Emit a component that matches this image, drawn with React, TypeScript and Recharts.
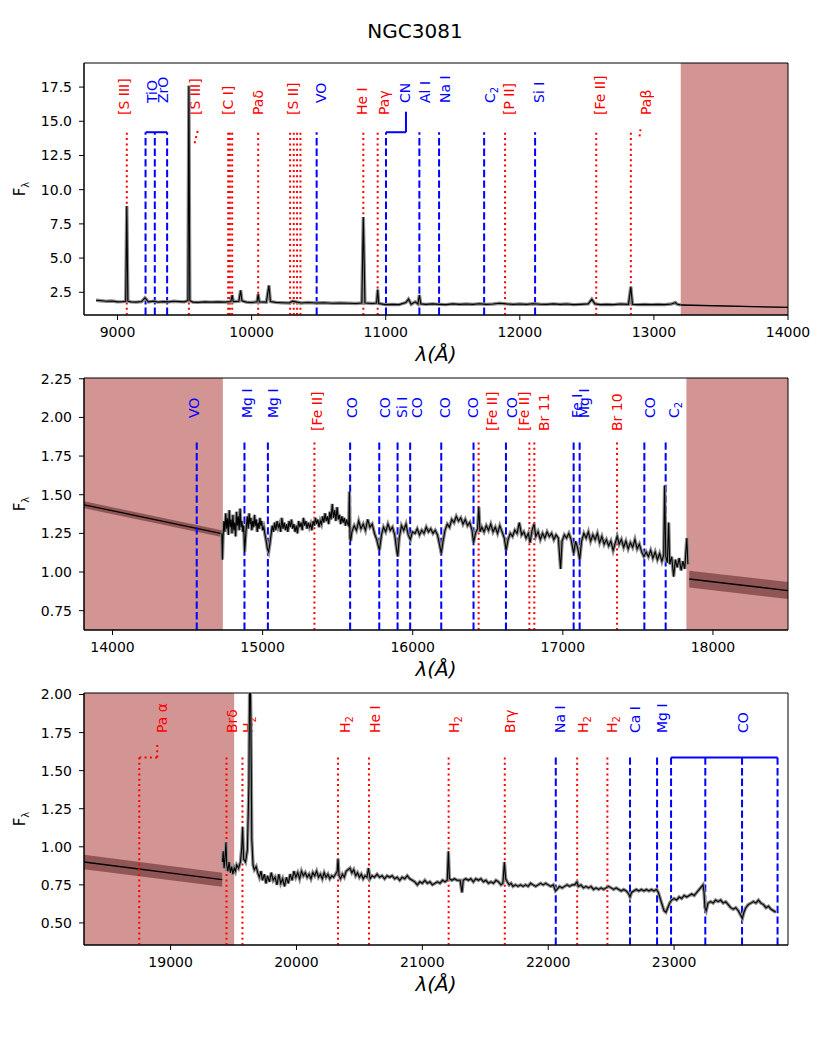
import React from "react"
import { ComposedChart, Line, Area, XAxis, YAxis, ReferenceArea, ReferenceLine } from "recharts"

type Pt = [number, number]
type Mark = { name: string; w: number[]; lw: number; kind: "em" | "abs" }

const RED = "#ff0000"
const BLUE = "#0000ff"
const SHADE = "#d39494"
const BAND = "#905656"
const FONT = "DejaVu Sans, sans-serif"

// ---------- panel 1 : 8750 - 14000 A ----------
const spec1: Pt[] = [
  [8840, 1.92], [8880, 1.88], [8920, 1.84], [8960, 1.86], [9000, 1.8], [9040, 1.82], [9061, 1.85], [9069, 8.8],
  [9077, 1.85], [9100, 1.8], [9140, 1.78], [9180, 1.82], [9205, 2.1], [9230, 1.8], [9270, 1.85], [9300, 1.78],
  [9340, 1.82], [9380, 1.8], [9420, 1.84], [9460, 1.82], [9500, 1.8], [9525, 1.9], [9532, 17.6], [9539, 1.9],
  [9560, 1.78], [9600, 1.76], [9650, 1.8], [9700, 1.78], [9750, 1.8], [9800, 1.78], [9845, 1.82], [9855, 2.3],
  [9863, 1.82], [9905, 1.85], [9918, 2.65], [9928, 1.88], [9960, 1.78], [10000, 1.75], [10040, 1.8], [10049, 2.35],
  [10057, 1.8], [10110, 1.78], [10129, 3.0], [10140, 1.82], [10180, 1.76], [10230, 1.74], [10280, 1.72], [10305, 1.85],
  [10330, 1.8], [10370, 1.72], [10420, 1.75], [10480, 1.72], [10540, 1.74], [10600, 1.7], [10660, 1.72], [10720, 1.7],
  [10780, 1.68], [10822, 1.72], [10833, 8.0], [10845, 1.72], [10900, 1.68], [10932, 1.72], [10940, 2.7], [10948, 1.68],
  [11000, 1.6], [11050, 1.62], [11100, 1.6], [11150, 1.75], [11170, 2.0], [11190, 1.62], [11220, 1.8], [11240, 1.65],
  [11251, 2.3], [11262, 1.65], [11300, 1.62], [11350, 1.65], [11400, 1.62], [11450, 1.6], [11500, 1.65], [11550, 1.62],
  [11600, 1.64], [11650, 1.62], [11700, 1.66], [11750, 1.62], [11800, 1.64], [11850, 1.7], [11900, 1.65], [11950, 1.62],
  [12000, 1.64], [12050, 1.62], [12100, 1.66], [12150, 1.63], [12200, 1.62], [12250, 1.65], [12300, 1.62], [12350, 1.64],
  [12400, 1.6], [12450, 1.62], [12510, 1.65], [12537, 2.0], [12560, 1.65], [12600, 1.6], [12650, 1.62], [12700, 1.6],
  [12750, 1.64], [12810, 1.62], [12828, 2.9], [12840, 1.62], [12880, 1.6], [12930, 1.62], [12980, 1.6], [13030, 1.62],
  [13080, 1.6], [13130, 1.64], [13160, 1.75], [13175, 1.62], [13200, 1.58],
]
const model1 = [[13200, 1.57, 1.53, 1.61], [14000, 1.4, 1.36, 1.44]]
const marks1: Mark[] = [
  { name: "[S III]", w: [9069], lw: 9047, kind: "em" },
  { name: "TiO", w: [9209], lw: 9254, kind: "abs" },
  { name: "ZrO", w: [9278, 9370], lw: 9340, kind: "abs" },
  { name: "[S III]", w: [9532], lw: 9577, kind: "em" },
  { name: "[C I]", w: [9825, 9838, 9855], lw: 9825, kind: "em" },
  { name: "Paδ", w: [10049], lw: 10049, kind: "em" },
  { name: "[S II]", w: [10287, 10314, 10339, 10364], lw: 10310, kind: "em" },
  { name: "VO", w: [10485], lw: 10519, kind: "abs" },
  { name: "He I", w: [10833], lw: 10821, kind: "em" },
  { name: "Paγ", w: [10940], lw: 10987, kind: "em" },
  { name: "CN", w: [11002], lw: 11144, kind: "abs" },
  { name: "Al I", w: [11251], lw: 11293, kind: "abs" },
  { name: "Na I", w: [11398], lw: 11443, kind: "abs" },
  { name: "C_2", w: [11734], lw: 11778, kind: "abs" },
  { name: "[P II]", w: [11890], lw: 11920, kind: "em" },
  { name: "Si I", w: [12114], lw: 12146, kind: "abs" },
  { name: "[Fe II]", w: [12570], lw: 12599, kind: "em" },
  { name: "Paβ", w: [12828], lw: 12943, kind: "em" },
]
const brackets1: Pt[][] = [
  [[9209, 14.2], [9370, 14.2]],
  [[11002, 14.2], [11151, 14.2]],
  [[11151, 14.2], [11151, 15.7]],
]
const leaders1: Pt[][] = [
  [[9575, 13.4], [9598, 14.3]],
  [[12893, 13.9], [12900, 14.4]],
]

// ---------- panel 2 : 13810 - 18500 A ----------
const spec2: Pt[] = [
  [14728, 1.25], [14732, 1.08], [14736, 1.22], [14742, 1.33], [14748, 1.26], [14754, 1.38], [14760, 1.28], [14766, 1.35],
  [14772, 1.24], [14778, 1.4], [14784, 1.29], [14790, 1.34], [14796, 1.25], [14802, 1.37], [14808, 1.27], [14814, 1.32],
  [14820, 1.23], [14826, 1.39], [14832, 1.3], [14838, 1.36], [14844, 1.27], [14850, 1.41], [14856, 1.29], [14862, 1.33],
  [14868, 1.26], [14874, 1.3], [14880, 1.13], [14886, 1.22], [14892, 1.3], [14898, 1.36], [14904, 1.28], [14910, 1.38],
  [14916, 1.31], [14922, 1.35], [14928, 1.27], [14934, 1.33], [14940, 1.29], [14946, 1.37], [14952, 1.3], [14958, 1.34],
  [14964, 1.26], [14970, 1.32], [14976, 1.28], [14982, 1.35], [14988, 1.3], [14994, 1.33], [15000, 1.27], [15008, 1.29],
  [15016, 1.24], [15024, 1.2], [15032, 1.15], [15040, 1.13], [15048, 1.18], [15056, 1.24], [15064, 1.3], [15072, 1.26],
  [15080, 1.32], [15088, 1.27], [15096, 1.33], [15104, 1.29], [15112, 1.31], [15120, 1.26], [15128, 1.35], [15136, 1.28],
  [15144, 1.32], [15152, 1.27], [15160, 1.31], [15168, 1.26], [15176, 1.33], [15184, 1.29], [15192, 1.34], [15200, 1.28],
  [15208, 1.31], [15216, 1.26], [15224, 1.3], [15232, 1.25], [15240, 1.33], [15248, 1.29], [15256, 1.32], [15264, 1.27],
  [15272, 1.35], [15280, 1.3], [15288, 1.33], [15296, 1.28], [15304, 1.32], [15312, 1.29], [15320, 1.31], [15328, 1.27],
  [15336, 1.33], [15344, 1.3], [15352, 1.35], [15360, 1.31], [15368, 1.34], [15376, 1.29], [15384, 1.33], [15392, 1.31],
  [15400, 1.36], [15408, 1.32], [15416, 1.38], [15424, 1.33], [15432, 1.36], [15440, 1.31], [15448, 1.39], [15456, 1.34],
  [15464, 1.44], [15472, 1.35], [15480, 1.4], [15488, 1.33], [15496, 1.42], [15504, 1.34], [15512, 1.37], [15520, 1.31],
  [15528, 1.36], [15536, 1.32], [15544, 1.35], [15552, 1.3], [15560, 1.34], [15568, 1.31], [15574, 1.3], [15578, 1.52],
  [15582, 1.22], [15586, 1.2], [15595, 1.26], [15610, 1.3], [15625, 1.27], [15640, 1.33], [15655, 1.28], [15670, 1.31],
  [15685, 1.27], [15700, 1.34], [15715, 1.29], [15730, 1.31], [15745, 1.25], [15760, 1.21], [15778, 1.14], [15792, 1.24],
  [15805, 1.29], [15820, 1.26], [15835, 1.31], [15850, 1.27], [15865, 1.29], [15880, 1.24], [15892, 1.15], [15900, 1.1],
  [15910, 1.22], [15925, 1.3], [15940, 1.27], [15955, 1.31], [15970, 1.24], [15984, 1.21], [15998, 1.26], [16015, 1.25],
  [16030, 1.28], [16045, 1.24], [16060, 1.27], [16075, 1.25], [16090, 1.29], [16105, 1.26], [16120, 1.28], [16135, 1.25],
  [16150, 1.27], [16165, 1.24], [16178, 1.18], [16190, 1.12], [16202, 1.2], [16215, 1.27], [16230, 1.31], [16245, 1.29],
  [16260, 1.34], [16275, 1.32], [16290, 1.36], [16305, 1.33], [16320, 1.35], [16335, 1.31], [16350, 1.34], [16365, 1.3],
  [16380, 1.32], [16395, 1.27], [16405, 1.19], [16418, 1.25], [16432, 1.28], [16440, 1.42], [16448, 1.26], [16460, 1.29],
  [16475, 1.26], [16490, 1.3], [16505, 1.27], [16520, 1.31], [16535, 1.26], [16550, 1.29], [16565, 1.25], [16580, 1.3],
  [16595, 1.26], [16610, 1.22], [16622, 1.14], [16635, 1.21], [16650, 1.25], [16665, 1.23], [16680, 1.27], [16695, 1.25],
  [16710, 1.32], [16725, 1.24], [16740, 1.26], [16755, 1.22], [16770, 1.25], [16782, 1.19], [16795, 1.27], [16808, 1.31],
  [16820, 1.23], [16835, 1.26], [16850, 1.21], [16865, 1.25], [16880, 1.22], [16895, 1.26], [16910, 1.23], [16925, 1.25],
  [16940, 1.21], [16955, 1.24], [16970, 1.22], [16985, 1.02], [16995, 1.2], [17010, 1.24], [17025, 1.22], [17040, 1.25],
  [17055, 1.21], [17072, 1.12], [17085, 1.2], [17100, 1.15], [17112, 1.08], [17125, 1.2], [17140, 1.25], [17155, 1.22],
  [17170, 1.26], [17185, 1.2], [17200, 1.24], [17215, 1.21], [17230, 1.25], [17245, 1.19], [17260, 1.23], [17275, 1.18],
  [17290, 1.21], [17305, 1.17], [17320, 1.2], [17335, 1.14], [17350, 1.19], [17362, 1.23], [17375, 1.18], [17390, 1.21],
  [17405, 1.16], [17420, 1.2], [17435, 1.15], [17450, 1.19], [17465, 1.16], [17480, 1.21], [17495, 1.15], [17510, 1.18],
  [17525, 1.13], [17540, 1.1], [17555, 1.13], [17570, 1.1], [17585, 1.14], [17600, 1.09], [17615, 1.13], [17630, 1.08],
  [17645, 1.12], [17660, 1.07], [17672, 1.11], [17678, 1.56], [17686, 1.1], [17696, 1.06], [17705, 1.32], [17712, 1.05],
  [17725, 1.1], [17738, 0.97], [17750, 1.08], [17762, 1.03], [17775, 1.09], [17788, 1.01], [17800, 1.07], [17812, 1.02],
  [17826, 1.22], [17833, 1.05],
]
const model2a = [[13810, 1.435, 1.413, 1.457], [14735, 1.247, 1.225, 1.269]]
const model2b = [[17842, 0.955, 0.9, 1.008], [18500, 0.88, 0.825, 0.935]]
const marks2: Mark[] = [
  { name: "VO", w: [14561], lw: 14543, kind: "abs" },
  { name: "Mg I", w: [14879], lw: 14895, kind: "abs" },
  { name: "Mg I", w: [15035], lw: 15072, kind: "abs" },
  { name: "[Fe II]", w: [15345], lw: 15361, kind: "em" },
  { name: "CO", w: [15583], lw: 15595, kind: "abs" },
  { name: "CO", w: [15777], lw: 15817, kind: "abs" },
  { name: "Si I", w: [15899], lw: 15928, kind: "abs" },
  { name: "CO", w: [15983], lw: 16028, kind: "abs" },
  { name: "CO", w: [16190], lw: 16217, kind: "abs" },
  { name: "CO", w: [16405], lw: 16400, kind: "abs" },
  { name: "[Fe II]", w: [16439], lw: 16528, kind: "em" },
  { name: "CO", w: [16621], lw: 16661, kind: "abs" },
  { name: "[Fe II]", w: [16777], lw: 16739, kind: "em" },
  { name: "Br 11", w: [16810], lw: 16872, kind: "em" },
  { name: "Fe I", w: [17072], lw: 17095, kind: "abs" },
  { name: "Mg I", w: [17112], lw: 17143, kind: "abs" },
  { name: "Br 10", w: [17361], lw: 17361, kind: "em" },
  { name: "CO", w: [17543], lw: 17583, kind: "abs" },
  { name: "C_2", w: [17685], lw: 17739, kind: "abs" },
]

// ---------- panel 3 : 18310 - 23905 A ----------
const spec3: Pt[] = [
  [19412, 0.9], [19418, 0.97], [19425, 0.86], [19432, 0.92], [19440, 1.03], [19446, 0.88], [19455, 0.84], [19465, 0.9],
  [19475, 0.83], [19485, 0.87], [19495, 0.82], [19505, 0.86], [19515, 0.84], [19525, 0.88], [19540, 0.86], [19555, 0.9],
  [19566, 1.0], [19572, 1.13], [19580, 0.92], [19595, 0.9], [19610, 0.98], [19622, 1.4], [19630, 2.3], [19638, 1.8],
  [19645, 1.05], [19655, 0.88], [19665, 0.85], [19680, 0.87], [19692, 0.83], [19705, 0.8], [19718, 0.84], [19730, 0.78],
  [19745, 0.82], [19758, 0.76], [19770, 0.81], [19785, 0.77], [19800, 0.83], [19815, 0.78], [19830, 0.8], [19845, 0.75],
  [19860, 0.82], [19875, 0.76], [19890, 0.79], [19905, 0.74], [19920, 0.8], [19935, 0.76], [19950, 0.82], [19965, 0.78],
  [19980, 0.84], [19995, 0.8], [20010, 0.83], [20025, 0.79], [20040, 0.84], [20055, 0.81], [20070, 0.83], [20085, 0.8],
  [20100, 0.82], [20115, 0.79], [20130, 0.83], [20145, 0.81], [20160, 0.84], [20175, 0.8], [20190, 0.82], [20205, 0.79],
  [20220, 0.83], [20235, 0.8], [20250, 0.82], [20265, 0.79], [20280, 0.81], [20295, 0.8], [20310, 0.82], [20324, 0.84],
  [20330, 0.92], [20338, 0.81], [20350, 0.79], [20365, 0.82], [20380, 0.8], [20395, 0.84], [20410, 0.85], [20425, 0.86],
  [20440, 0.83], [20455, 0.85], [20470, 0.81], [20485, 0.83], [20500, 0.8], [20515, 0.82], [20530, 0.79], [20545, 0.81],
  [20560, 0.8], [20572, 0.86], [20585, 0.79], [20600, 0.81], [20620, 0.8], [20640, 0.82], [20660, 0.8], [20680, 0.81],
  [20700, 0.79], [20720, 0.81], [20740, 0.8], [20760, 0.81], [20780, 0.79], [20800, 0.8], [20820, 0.78], [20840, 0.8],
  [20860, 0.79], [20880, 0.81], [20900, 0.79], [20920, 0.78], [20940, 0.77], [20960, 0.75], [20980, 0.77], [21000, 0.76],
  [21020, 0.78], [21040, 0.76], [21060, 0.77], [21080, 0.75], [21100, 0.76], [21120, 0.77], [21140, 0.76], [21160, 0.78],
  [21180, 0.77], [21198, 0.78], [21207, 0.97], [21215, 0.79], [21235, 0.78], [21255, 0.79], [21275, 0.78], [21300, 0.78],
  [21315, 0.7], [21325, 0.78], [21345, 0.79], [21365, 0.78], [21385, 0.79], [21405, 0.77], [21425, 0.79], [21445, 0.78],
  [21465, 0.79], [21485, 0.77], [21505, 0.78], [21525, 0.76], [21545, 0.77], [21565, 0.76], [21585, 0.78], [21605, 0.77],
  [21625, 0.75], [21640, 0.76], [21652, 0.9], [21662, 0.79], [21675, 0.77], [21690, 0.75], [21705, 0.76], [21720, 0.74],
  [21740, 0.75], [21760, 0.74], [21780, 0.75], [21800, 0.74], [21820, 0.75], [21840, 0.74], [21860, 0.76], [21880, 0.75],
  [21900, 0.74], [21920, 0.75], [21940, 0.76], [21960, 0.75], [21980, 0.76], [22000, 0.75], [22020, 0.74], [22040, 0.75],
  [22058, 0.71], [22070, 0.72], [22090, 0.74], [22110, 0.73], [22130, 0.74], [22150, 0.75], [22170, 0.74], [22190, 0.75],
  [22210, 0.75], [22228, 0.77], [22240, 0.74], [22260, 0.75], [22280, 0.73], [22300, 0.74], [22320, 0.73], [22340, 0.74],
  [22360, 0.72], [22380, 0.73], [22400, 0.72], [22420, 0.73], [22440, 0.72], [22460, 0.73], [22480, 0.74], [22500, 0.73],
  [22520, 0.72], [22540, 0.73], [22560, 0.72], [22580, 0.71], [22600, 0.72], [22620, 0.71], [22640, 0.69], [22650, 0.67],
  [22662, 0.7], [22680, 0.71], [22700, 0.72], [22720, 0.71], [22740, 0.72], [22760, 0.71], [22780, 0.72], [22800, 0.71],
  [22820, 0.72], [22840, 0.71], [22860, 0.72], [22875, 0.7], [22890, 0.66], [22905, 0.62], [22920, 0.58], [22935, 0.57],
  [22950, 0.6], [22965, 0.63], [22980, 0.65], [23000, 0.66], [23020, 0.65], [23040, 0.67], [23060, 0.66], [23080, 0.68],
  [23100, 0.67], [23120, 0.68], [23140, 0.69], [23160, 0.68], [23180, 0.7], [23200, 0.72], [23220, 0.74], [23230, 0.75],
  [23238, 0.7], [23245, 0.6], [23255, 0.58], [23270, 0.63], [23290, 0.64], [23310, 0.63], [23330, 0.65], [23350, 0.64],
  [23370, 0.65], [23390, 0.63], [23410, 0.64], [23430, 0.62], [23450, 0.6], [23470, 0.59], [23490, 0.6], [23510, 0.58],
  [23530, 0.55], [23542, 0.53], [23555, 0.57], [23570, 0.6], [23590, 0.62], [23610, 0.63], [23630, 0.64], [23650, 0.63],
  [23670, 0.65], [23690, 0.63], [23710, 0.62], [23730, 0.6], [23750, 0.61], [23770, 0.59], [23790, 0.58], [23808, 0.57],
]
const model3 = [[18312, 0.9, 0.852, 0.948], [19410, 0.784, 0.738, 0.83]]
const marks3: Mark[] = [
  { name: "Pa α", w: [18751], lw: 18929, kind: "em" },
  { name: "Brδ", w: [19444], lw: 19484, kind: "em" },
  { name: "H_2", w: [19571], lw: 19616, kind: "em" },
  { name: "H_2", w: [20330], lw: 20383, kind: "em" },
  { name: "He I", w: [20576], lw: 20621, kind: "em" },
  { name: "H_2", w: [21209], lw: 21248, kind: "em" },
  { name: "Brγ", w: [21655], lw: 21698, kind: "em" },
  { name: "Na I", w: [22060], lw: 22095, kind: "abs" },
  { name: "H_2", w: [22230], lw: 22275, kind: "em" },
  { name: "H_2", w: [22470], lw: 22508, kind: "em" },
  { name: "Ca I", w: [22650], lw: 22693, kind: "abs" },
  { name: "Mg I", w: [22865], lw: 22905, kind: "abs" },
  { name: "CO", w: [22976, 23248, 23540, 23822], lw: 23545, kind: "abs" },
]
const brackets3: Pt[][] = [[[22976, 1.586], [23822, 1.586]]]
const leaders3: Pt[][] = [
  [[18751, 1.586], [18894, 1.586]],
  [[18894, 1.586], [18894, 1.68]],
]

const xTicks1 = [9000, 10000, 11000, 12000, 13000, 14000]
const xTicks2 = [14000, 15000, 16000, 17000, 18000]
const xTicks3 = [19000, 20000, 21000, 22000, 23000]
const yTicks1 = [2.5, 5, 7.5, 10, 12.5, 15, 17.5]
const yTicks2 = [0.75, 1, 1.25, 1.5, 1.75, 2, 2.25]
const yTicks3 = [0.5, 0.75, 1, 1.25, 1.5, 1.75, 2]

const tickStyle = { fill: "#000", fontSize: 14, fontFamily: FONT }

function labelText(name: string) {
  const i = name.indexOf("_")
  if (i < 0) return name
  return (
    <>
      {name.slice(0, i)}
      <tspan dy={4} fontSize={10}>{name.slice(i + 1)}</tspan>
    </>
  )
}

function tag(name: string, color: string, base: number) {
  return (p: any) => {
    const x = p?.viewBox?.x ?? 0
    return (
      <text
        transform={`translate(${x},${base}) rotate(-90)`}
        fill={color}
        fontSize={14}
        fontFamily={FONT}
        dominantBaseline="central"
      >
        {labelText(name)}
      </text>
    )
  }
}

type PanelProps = {
  top: number
  xDomain: [number, number]
  yDomain: [number, number]
  xTicks: number[]
  yTicks: number[]
  digits: number
  shades: Pt[]
  spec: Pt[]
  models: number[][][]
  marks: Mark[]
  brackets: Pt[][]
  leaders: Pt[][]
  markTop: number
  redBase: number
  blueBase: number
}

function Panel(props: PanelProps) {
  const { top, xDomain, yDomain, xTicks, yTicks, digits, shades, spec, models, marks, brackets, leaders, markTop, redBase, blueBase } = props
  const specData = spec.map(([w, f]) => ({ w, f }))
  const lineStyle = (kind: string) =>
    kind === "em"
      ? { stroke: RED, strokeWidth: 2, strokeDasharray: "2 3.3" }
      : { stroke: BLUE, strokeWidth: 2, strokeDasharray: "7.4 3.2" }

  return (
    <div style={{ position: "absolute", left: 0, top }}>
      <ComposedChart width={830} height={292} margin={{ top: 10, right: 42, bottom: 0, left: 0 }}>
        <XAxis
          type="number"
          dataKey="w"
          domain={xDomain}
          ticks={xTicks}
          allowDataOverflow
          height={30}
          tickSize={5}
          tickMargin={7}
          stroke="#000"
          tick={tickStyle}
        />
        <YAxis
          type="number"
          domain={yDomain}
          ticks={yTicks}
          allowDataOverflow
          width={84}
          tickSize={5}
          tickMargin={7}
          stroke="#000"
          tick={tickStyle}
          tickFormatter={(v: number) => v.toFixed(digits)}
        />
        {shades.map(([a, b]) => (
          <ReferenceArea key={"s" + a} x1={a} x2={b} y1={yDomain[0]} y2={yDomain[1]} fill={SHADE} fillOpacity={1} stroke="none" />
        ))}
        {models.map((m, i) => (
          <Area
            key={"band" + i}
            data={m.map(([w, , lo, hi]) => ({ w, r: [lo, hi] }))}
            dataKey="r"
            type="linear"
            stroke="none"
            fill={BAND}
            fillOpacity={1}
            isAnimationActive={false}
            activeDot={false}
          />
        ))}
        {models.map((m, i) => (
          <Line
            key={"model" + i}
            data={m.map(([w, f]) => ({ w, f }))}
            dataKey="f"
            type="linear"
            stroke="#000"
            strokeWidth={1.3}
            dot={false}
            activeDot={false}
            isAnimationActive={false}
          />
        ))}
        {marks.flatMap((mk, i) =>
          mk.w.map((w, j) => (
            <ReferenceLine
              key={`m${i}-${j}`}
              segment={[{ x: w, y: yDomain[0] }, { x: w, y: markTop }]}
              {...lineStyle(mk.kind)}
            />
          ))
        )}
        {brackets.map((s, i) => (
          <ReferenceLine
            key={"br" + i}
            segment={s.map(([x, y]) => ({ x, y }))}
            stroke={BLUE}
            strokeWidth={2}
          />
        ))}
        {leaders.map((s, i) => (
          <ReferenceLine
            key={"ld" + i}
            segment={s.map(([x, y]) => ({ x, y }))}
            stroke={RED}
            strokeWidth={2}
            strokeDasharray="2 3.3"
          />
        ))}
        {marks.map((mk, i) => (
          <ReferenceLine
            key={"lb" + i}
            segment={[{ x: mk.lw, y: markTop }, { x: mk.lw, y: markTop }]}
            stroke="none"
            label={tag(mk.name, mk.kind === "em" ? RED : BLUE, mk.kind === "em" ? redBase : blueBase)}
          />
        ))}
        <Line
          data={specData}
          dataKey="f"
          type="linear"
          stroke="#8a8a8a"
          strokeWidth={3.4}
          dot={false}
          activeDot={false}
          isAnimationActive={false}
        />
        <Line
          data={specData}
          dataKey="f"
          type="linear"
          stroke="#000"
          strokeWidth={1.1}
          dot={false}
          activeDot={false}
          isAnimationActive={false}
        />
        <ReferenceArea x1={xDomain[0]} x2={xDomain[1]} y1={yDomain[0]} y2={yDomain[1]} fill="none" stroke="#000" strokeWidth={1} />
      </ComposedChart>
    </div>
  )
}

function AxisTitles({ mid, base }: { mid: number; base: number }) {
  return (
    <>
      <text transform={`translate(25,${mid}) rotate(-90)`} textAnchor="middle" fontSize={15} fontFamily={FONT}>
        F<tspan dy={4} fontSize={10}>λ</tspan>
      </text>
      <text x={436} y={base} textAnchor="middle" fontSize={20} fontStyle="italic" fontFamily={FONT}>
        λ(Å)
      </text>
    </>
  )
}

export default function App() {
  return (
    <div style={{ position: "absolute", left: 0, top: 0, width: 830, height: 1051, background: "#fff" }}>
      <Panel
        top={53}
        xDomain={[8750, 14000]}
        yDomain={[0.84, 19.26]}
        xTicks={xTicks1}
        yTicks={yTicks1}
        digits={1}
        shades={[[13200, 14000]]}
        spec={spec1}
        models={[model1]}
        marks={marks1}
        brackets={brackets1}
        leaders={leaders1}
        markTop={14.2}
        redBase={62}
        blueBase={50}
      />
      <Panel
        top={368}
        xDomain={[13810, 18500]}
        yDomain={[0.625, 2.255]}
        xTicks={xTicks2}
        yTicks={yTicks2}
        digits={2}
        shades={[[13810, 14735], [17823, 18500]]}
        spec={spec2}
        models={[model2a, model2b]}
        marks={marks2}
        brackets={[]}
        leaders={[]}
        markTop={1.845}
        redBase={63}
        blueBase={50}
      />
      <Panel
        top={683}
        xDomain={[18312, 23905]}
        yDomain={[0.355, 2.01]}
        xTicks={xTicks3}
        yTicks={yTicks3}
        digits={2}
        shades={[[18312, 19505]]}
        spec={spec3}
        models={[model3]}
        marks={marks3}
        brackets={brackets3}
        leaders={leaders3}
        markTop={1.586}
        redBase={50}
        blueBase={50}
      />
      <svg width={830} height={1051} style={{ position: "absolute", left: 0, top: 0, pointerEvents: "none" }}>
        <text x={415} y={38} textAnchor="middle" fontSize={20} fontFamily={FONT}>
          NGC3081
        </text>
        <AxisTitles mid={189} base={361} />
        <g transform="translate(0,315)">
          <AxisTitles mid={189} base={361} />
        </g>
        <g transform="translate(0,630)">
          <AxisTitles mid={189} base={361} />
        </g>
      </svg>
    </div>
  )
}
